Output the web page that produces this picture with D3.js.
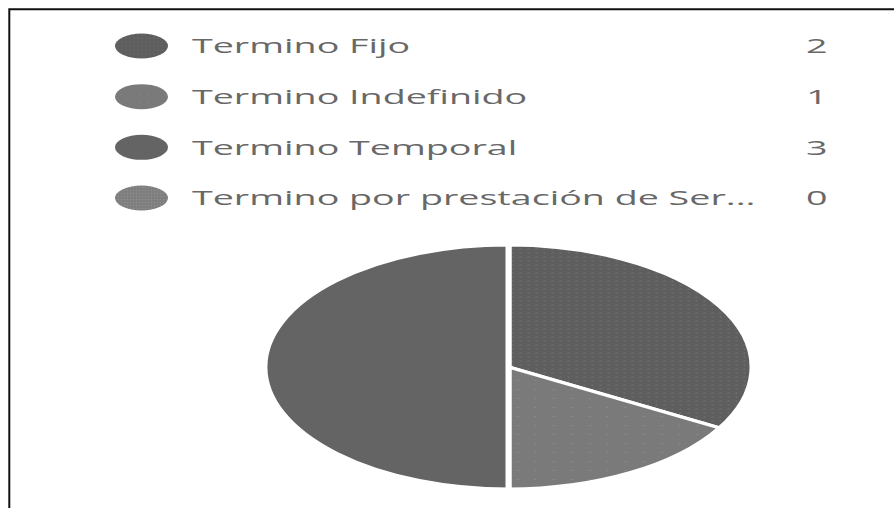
<!DOCTYPE html>
<html>
<head>
<meta charset="utf-8">
<script src="https://cdn.jsdelivr.net/npm/d3@7"></script>
<style>
  html, body { margin: 0; padding: 0; background: #fff; }
  svg { display: block; }
</style>
</head>
<body>
<svg id="chart" width="894" height="508"></svg>
<script>
const categories = ["Termino Fijo", "Termino Indefinido", "Termino Temporal", "Termino por prestación de Ser..."];
const values = [2, 1, 3, 0];
const baseColors = ["#5e5e5e", "#7a7a7a", "#646464", "#7e7e7e"];
const dotColors = ["#767676", "#8c8c8c", null, "#909090"];

const W = 894, H = 508;
const svg = d3.select("#chart");
svg.append("rect").attr("width", W).attr("height", H).attr("fill", "#fff");

// patterns
const defs = svg.append("defs");
const patSpec = [
  {id: "p0", size: 4, r: 0.6},
  {id: "p1", size: 9, r: 0.6},
  null,
  {id: "p3", size: 3, r: 0.7}
];
patSpec.forEach((p, i) => {
  if (!p) return;
  const pat = defs.append("pattern").attr("id", p.id)
    .attr("patternUnits", "userSpaceOnUse")
    .attr("width", p.size).attr("height", p.size);
  pat.append("rect").attr("width", p.size).attr("height", p.size).attr("fill", baseColors[i]);
  pat.append("circle").attr("cx", p.size / 2).attr("cy", p.size / 2).attr("r", p.r).attr("fill", dotColors[i]);
});
const fillOf = i => patSpec[i] ? `url(#${patSpec[i].id})` : baseColors[i];

// frame (top and left lines)
svg.append("path")
  .attr("d", `M9.3,${H} L9.3,9.3 L${W},9.3`)
  .attr("fill", "none").attr("stroke", "#111").attr("stroke-width", 2);

// legend
const rowY = d3.scalePoint().domain(categories).range([46, 198]);
const sx = 1.93;
const legend = svg.append("g");
legend.selectAll("ellipse").data(categories).join("ellipse")
  .attr("cx", 141.5).attr("cy", d => rowY(d))
  .attr("rx", 26.5).attr("ry", 12.5)
  .attr("fill", (d, i) => fillOf(i));

const lt = legend.append("g").attr("transform", `scale(${sx},1)`);
lt.selectAll("text.lab").data(categories).join("text").attr("class", "lab")
  .attr("x", 192 / sx).attr("y", d => rowY(d) + 7.5)
  .attr("font-family", "'Open Sans', 'Noto Sans', sans-serif")
  .attr("font-size", 19.5).attr("fill", "#686868")
  .text(d => d);
lt.selectAll("text.val").data(values).join("text").attr("class", "val")
  .attr("x", 806 / sx).attr("y", (d, i) => rowY(categories[i]) + 7.5)
  .attr("font-family", "'Open Sans', 'Noto Sans', sans-serif")
  .attr("font-size", 19.5).attr("fill", "#686868")
  .text(d => d);

// pie
const R = 122;
const pie = d3.pie().sort(null).value(d => d)(values);
const arc = d3.arc().innerRadius(0).outerRadius(R);
const pg = svg.append("g").attr("transform", "translate(508.5,367) scale(2,1)");
pg.selectAll("path").data(pie.filter(d => d.value > 0)).join("path")
  .attr("d", arc)
  .attr("fill", d => fillOf(d.index))
  .attr("stroke", "#fff").attr("stroke-width", 3);
</script>
</body>
</html>
